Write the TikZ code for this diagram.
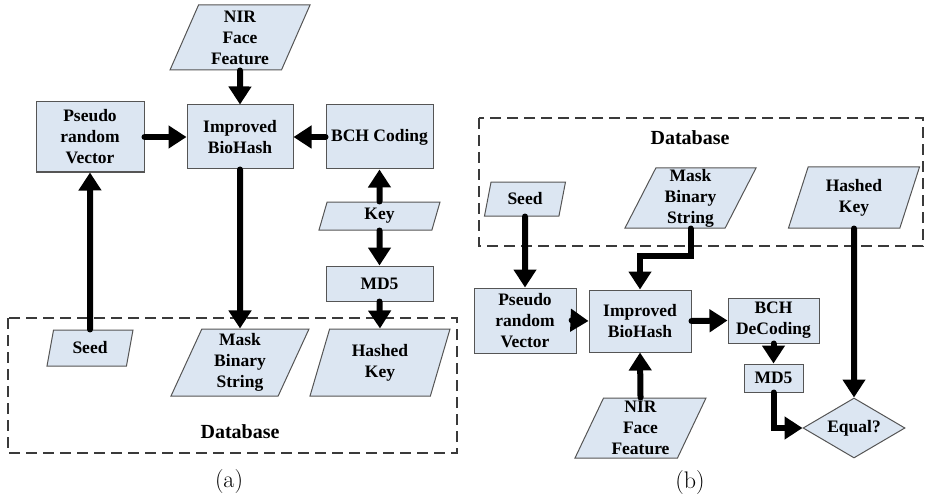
\documentclass[tikz,border=0pt]{standalone}
\usepackage{fontspec}
\usepackage{tikz}
\usetikzlibrary{shapes.geometric,arrows.meta}
\newfontfamily\boxfont{Liberation Serif}
\definecolor{boxblue}{HTML}{DCE6F2}
\definecolor{boxline}{HTML}{555555}
\definecolor{dashgray}{HTML}{3A3A3A}

\begin{document}
\begin{tikzpicture}[x=1pt,y=1pt,
    proc/.style={draw=boxline,fill=boxblue,line width=1pt,inner sep=0pt,align=center,
        font=\boxfont\bfseries\fontsize{17.5}{21}\selectfont},
    iodata/.style={proc,trapezium,trapezium left angle=62,trapezium right angle=118,
        trapezium stretches body},
    decide/.style={proc,diamond,aspect=1.7},
    dbframe/.style={draw=dashgray,line width=1.8pt,dash pattern=on 11pt off 6pt},
    dblabel/.style={font=\boxfont\bfseries\fontsize{20}{24}\selectfont},
    flow/.style={line width=6pt,line cap=round,-{Triangle[length=18pt,width=22pt]}}]
            \useasboundingbox (0,0) rectangle (925,-497);
            % (a) enrolment
            \draw [dbframe] (8,-318) rectangle (457,-453);
            \node [dblabel] (dba) at (240,-432) {Database};
            \node [iodata, minimum width=140pt, minimum height=65pt] (nira) at (240,-37.5) {NIR\\Face\\Feature};
            \node [proc, minimum width=108pt, minimum height=70pt] (pra) at (90,-137) {Pseudo\\random\\Vector};
            \node [proc, minimum width=106pt, minimum height=64pt] (bha) at (240,-137) {Improved\\BioHash};
            \node [proc, minimum width=107pt, minimum height=64pt] (bcha) at (379.5,-137) {BCH Coding};
            \node [iodata, minimum width=121pt, minimum height=28pt] (keya) at (379.5,-216) {Key};
            \node [proc, minimum width=107pt, minimum height=35pt] (md5a) at (379.5,-283.5) {MD5};
            \node [iodata, minimum width=86pt, minimum height=36pt] (seeda) at (90,-348) {Seed};
            \node [iodata, minimum width=138pt, minimum height=67pt] (maska) at (240,-362.5) {Mask\\Binary\\String};
            \node [iodata, minimum width=140pt, minimum height=67pt] (hka) at (380,-362.5) {Hashed\\Key};
            \draw [flow] (nira.south) -- (bha.north);
            \draw [flow] (pra.east) -- (bha.west);
            \draw [flow] (bcha.west) -- (bha.east);
            \draw [flow] (keya.north) -- (bcha.south);
            \draw [flow] (keya.south) -- (md5a.north);
            \draw [flow] (md5a.south) -- (hka.north);
            \draw [flow] (seeda.north) -- (pra.south);
            \draw [flow] (bha.south) -- (maska.north);
            \node (capa) at (229,-482) {\fontsize{24}{28}\selectfont (a)};
            % (b) verification
            \draw [dbframe] (479,-118) rectangle (923,-246);
            \node [dblabel] (dbb) at (690,-138) {Database};
            \node [iodata, minimum width=81pt, minimum height=34pt] (seedb) at (525,-199) {Seed};
            \node [iodata, minimum width=131pt, minimum height=60pt] (maskb) at (690.5,-198) {Mask\\Binary\\String};
            \node [iodata, minimum width=131pt, minimum height=61pt] (hkb) at (854,-197.5) {Hashed\\Key};
            \node [proc, minimum width=102pt, minimum height=65pt] (prb) at (525,-320.5) {Pseudo\\random\\Vector};
            \node [proc, minimum width=102pt, minimum height=62pt] (bhb) at (640,-321) {Improved\\BioHash};
            \node [proc, minimum width=91pt, minimum height=45pt] (bchb) at (773.5,-320.5) {BCH\\DeCoding};
            \node [proc, minimum width=59pt, minimum height=28pt] (md5b) at (773.5,-378) {MD5};
            \node [iodata, minimum width=131pt, minimum height=60pt] (nirb) at (640.5,-428) {NIR\\Face\\Feature};
            \node [decide, minimum width=102pt, minimum height=60pt] (eq) at (854,-428) {Equal?};
            \draw [flow] (seedb.south) -- (prb.north);
            \draw [flow] (maskb.south) -- ++(0,-27) -| (bhb.north);
            \draw [flow] (hkb.south) -- (eq.north);
            \draw [flow] (prb.east) -- (bhb.west);
            \draw [flow] (bhb.east) -- (bchb.west);
            \draw [flow] (bchb.south) -- (md5b.north);
            \draw [flow] (md5b.south) |- (eq.west);
            \draw [flow] (nirb.north) -- (bhb.south);
            \node (capb) at (690,-483) {\fontsize{24}{28}\selectfont (b)};
        \end{tikzpicture}
\end{document}
